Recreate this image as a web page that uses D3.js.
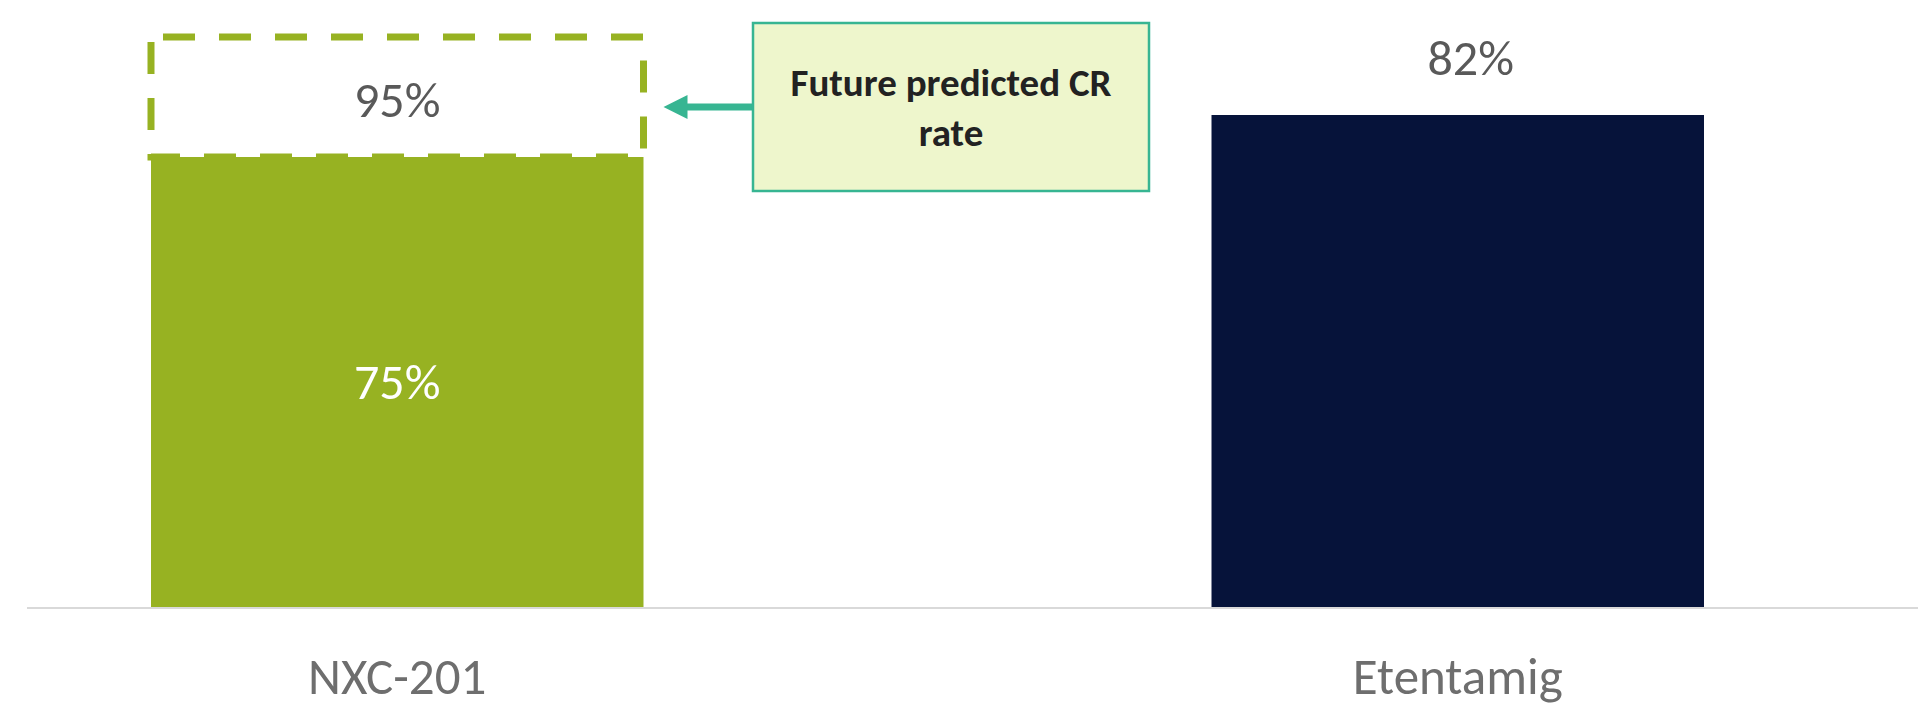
<!DOCTYPE html>
<html>
<head>
<meta charset="utf-8">
<script src="https://cdn.jsdelivr.net/npm/d3@7"></script>
<style>
  html, body { margin: 0; padding: 0; background: #ffffff; }
  svg { display: block; }
</style>
</head>
<body>
<svg id="chart" width="1922" height="715"></svg>
<script>
// ---- data ----
const categories = ["NXC-201", "Etentamig"];
const currentValues = [75, 82];          // actual CR rates (%)
const predictedValues = [95, null];      // future predicted CR rate (%)
const barColors = ["#97B222", "#06133A"];
const calloutLines = ["Future predicted CR", "rate"];

// ---- layout ----
const W = 1922, H = 715;
const svg = d3.select("#chart");
const font = "Carlito, Calibri, Lato, 'Open Sans', sans-serif";

const x = d3.scaleBand()
  .domain(categories)
  .range([151, 1704])
  .paddingInner(0.5356)
  .paddingOuter(0);

const y = d3.scaleLinear().domain([0, 100]).range([607, 7]);

// baseline axis
const axisG = svg.append("g").attr("transform", `translate(0,${y(0)})`);
axisG.append("line")
  .attr("x1", 27).attr("x2", 1918)
  .attr("y1", 1).attr("y2", 1)
  .attr("stroke", "#D9D9D9").attr("stroke-width", 2);

// bars
svg.selectAll("rect.bar")
  .data(categories)
  .enter().append("rect")
  .attr("class", "bar")
  .attr("x", d => x(d))
  .attr("width", x.bandwidth())
  .attr("y", (d, i) => y(currentValues[i]))
  .attr("height", (d, i) => y(0) - y(currentValues[i]))
  .attr("fill", (d, i) => barColors[i]);

// predicted (dashed) segment
const predIdx = predictedValues.map((v, i) => v == null ? null : i).filter(i => i != null);
svg.selectAll("rect.pred")
  .data(predIdx)
  .enter().append("rect")
  .attr("class", "pred")
  .attr("x", i => x(categories[i]))
  .attr("width", x.bandwidth())
  .attr("y", i => y(predictedValues[i]))
  .attr("height", i => y(currentValues[i]) - y(predictedValues[i]))
  .attr("fill", "#ffffff")
  .attr("stroke", barColors[0])
  .attr("stroke-width", 7)
  .attr("stroke-dasharray", "32 24")
  .attr("stroke-dashoffset", -12);

// predicted labels
svg.selectAll("text.predLabel")
  .data(predIdx)
  .enter().append("text")
  .attr("class", "predLabel")
  .attr("x", i => x(categories[i]) + x.bandwidth() / 2)
  .attr("y", i => (y(predictedValues[i]) + y(currentValues[i])) / 2 + 20)
  .attr("text-anchor", "middle")
  .attr("font-family", font)
  .attr("font-size", 50)
  .attr("fill", "#595959")
  .text(i => predictedValues[i] + "%");

// value labels: inside for first (has prediction), above for others
svg.selectAll("text.valLabel")
  .data(categories)
  .enter().append("text")
  .attr("class", "valLabel")
  .attr("x", d => x(d) + x.bandwidth() / 2)
  .attr("dx", (d, i) => predictedValues[i] != null ? 0 : 13)
  .attr("y", (d, i) => predictedValues[i] != null
      ? (y(currentValues[i]) + y(0)) / 2 + 17
      : y(currentValues[i]) - 40)
  .attr("text-anchor", "middle")
  .attr("font-family", font)
  .attr("font-size", 50)
  .attr("fill", (d, i) => predictedValues[i] != null ? "#ffffff" : "#595959")
  .text((d, i) => currentValues[i] + "%");

// category labels
svg.selectAll("text.cat")
  .data(categories)
  .enter().append("text")
  .attr("class", "cat")
  .attr("x", d => x(d) + x.bandwidth() / 2)
  .attr("y", 694)
  .attr("text-anchor", "middle")
  .attr("font-family", font)
  .attr("font-size", 51)
  .attr("fill", "#6E6E6E")
  .text(d => d);

// callout box
const teal = "#37B592";
const box = { x0: 753, x1: 1149, y0: 23, y1: 191 };
const arrowY = 107;
const tipX = x(categories[0]) + x.bandwidth() + 20;

svg.append("line")
  .attr("x1", box.x0).attr("x2", tipX + 20)
  .attr("y1", arrowY).attr("y2", arrowY)
  .attr("stroke", teal).attr("stroke-width", 7);
svg.append("path")
  .attr("d", `M${tipX},${arrowY} L${tipX + 24},${arrowY - 12} L${tipX + 24},${arrowY + 12} Z`)
  .attr("fill", teal);

svg.append("rect")
  .attr("x", box.x0).attr("y", box.y0)
  .attr("width", box.x1 - box.x0).attr("height", box.y1 - box.y0)
  .attr("fill", "#EEF6CC")
  .attr("stroke", teal).attr("stroke-width", 2.5);

svg.selectAll("text.callout")
  .data(calloutLines)
  .enter().append("text")
  .attr("class", "callout")
  .attr("x", (box.x0 + box.x1) / 2)
  .attr("y", (d, i) => 96 + i * 50)
  .attr("text-anchor", "middle")
  .attr("font-family", font)
  .attr("font-weight", "bold")
  .attr("font-size", 39)
  .attr("fill", "#222222")
  .text(d => d);
</script>
</body>
</html>
